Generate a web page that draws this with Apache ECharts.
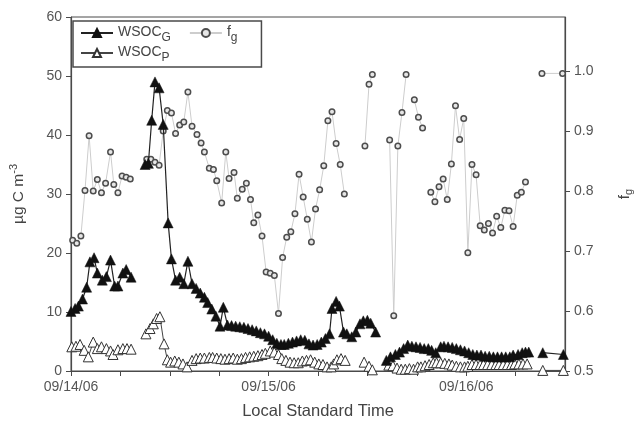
<!DOCTYPE html>
<html>
<head>
<meta charset="utf-8">
<script src="https://cdn.jsdelivr.net/npm/echarts@6/dist/echarts.min.js"></script>
<style>
  html, body { margin: 0; padding: 0; background: #fff; }
  #chart { width: 642px; height: 428px; }
</style>
</head>
<body>
<div id="chart"></div>
<script>
// hours since 09/14/06 00:00, null = no data (line breaks)
var wsocGTime = [0, 0.5, 0.9, 1.4, 1.9, 2.3, 2.8, 3.2, 3.8, 4.3, 4.8, 5.3, 5.7, 6.3, 6.7, 7.3, 8.1,
  9.0, 9.4, 9.8, 10.2, 10.7, 11.2, 11.8, 12.2, 12.7, 13.2, 13.7, 14.2, 14.7, 15.2, 15.7, 16.2, 16.6, 17.1, 17.6, 18.1,
  18.5, 19.0, 19.5, 20.0, 20.5, 21.0, 21.5, 22.0, 22.5, 23.0, 23.5, 24.0, 24.5, 25.0, 25.5, 25.9, 26.4, 26.9, 27.4, 27.9,
  28.4, 28.9, 29.4, 29.9, 30.4, 30.9, 31.4, 31.7, 32.2, 32.6, 33.1, 33.5, 34.1, 34.6, 35.1, 35.5, 36.0, 36.4, 37.0, 37.6,
  38.3, 38.8, 39.4, 39.9, 40.4, 40.9, 41.4, 41.9, 42.4, 42.9, 43.4, 43.8, 44.3, 44.9, 45.3, 45.8, 46.3, 46.8, 47.3, 47.8,
  48.3, 48.8, 49.3, 49.8, 50.3, 50.8, 51.3, 51.8, 52.3, 52.8, 53.3, 53.7, 54.3, 54.8, 55.2, 55.6, 56.4,
  57.3, 59.8];
var wsocGValue = [10.1, 10.6, 11.0, 12.2, 14.2, 18.5, 19.2, 16.6, 15.4, 16.0, 18.8, 14.4, 14.4, 16.6, 17.2, 15.9, null,
  35.0, 35.2, 42.5, 49.0, 48.0, 41.8, 25.1, 19.0, 15.4, 15.9, 14.8, 18.6, 14.8, 14.0, 13.2, 12.5, 11.6, 10.5, 9.3, 7.6,
  10.8, 7.8, 7.7, 7.6, 7.5, 7.4, 7.2, 7.0, 6.8, 6.5, 6.3, 5.9, 5.3, 4.7, 4.5, 4.5, 4.7, 4.9, 5.1, 5.3,
  5.2, 4.6, 4.4, 4.5, 4.9, 5.5, 6.3, 10.6, 11.8, 11.0, 6.6, 6.3, 5.8, 6.6, 8.0, 8.5, 8.6, 8.1, 6.6, null,
  1.8, 2.4, 2.8, 3.2, 3.8, 4.4, 4.2, 4.1, 4.0, 3.8, 3.8, 3.5, 3.1, 4.1, 4.2, 4.1, 4.0, 3.8, 3.6, 3.4,
  3.1, 2.8, 2.7, 2.7, 2.5, 2.5, 2.4, 2.4, 2.4, 2.4, 2.4, 2.7, 2.8, 3.1, 3.2, 3.2, null,
  3.1, 2.8];

var wsocPTime = [0.1, 0.6, 1.1, 1.6, 2.1, 2.7, 3.2, 3.7, 4.3, 4.8, 5.1, 5.7, 6.3, 6.8, 7.3, 8.2,
  9.1, 9.6, 10.0, 10.4, 10.8, 11.3, 11.7, 12.1, 12.6, 13.1, 13.6, 14.1, 14.7, 15.2, 15.7, 16.2, 16.8, 17.2, 17.7, 18.2,
  18.7, 19.2, 19.7, 20.2, 20.7, 21.2, 21.7, 22.2, 22.7, 23.2, 23.6, 24.2, 24.7, 25.2, 25.6, 26.1, 26.6, 27.1, 27.6, 28.1,
  28.6, 29.1, 29.6, 30.1, 30.6, 31.1, 31.6, 31.9, 32.3, 32.8, 33.3, 34.4,
  35.6, 36.2, 36.6, 37.6,
  38.6, 39.1, 39.6, 40.1, 40.6, 41.1, 41.6, 42.1, 42.5, 43.0, 43.5, 44.0, 44.4, 44.9, 45.4, 45.9, 46.3, 46.8, 47.3, 47.8,
  48.2, 48.7, 49.2, 49.7, 50.1, 50.6, 51.1, 51.6, 52.0, 52.5, 53.0, 53.5, 53.9, 54.4, 54.9, 55.4, 56.4,
  57.3, 59.8];
var wsocPValue = [4.1, 4.2, 4.5, 3.5, 2.4, 4.9, 3.8, 4.1, 3.8, 3.4, 2.8, 3.6, 3.8, 3.8, 3.7, null,
  6.3, 7.2, 8.0, 8.9, 9.2, 4.6, 1.9, 1.5, 1.7, 1.5, 1.2, 0.7, 1.8, 2.1, 2.2, 2.2, 2.3, 2.3, 2.2, 2.1,
  2.0, 2.1, 2.2, 2.0, 2.1, 2.3, 2.4, 2.5, 2.6, 2.8, 3.0, 3.4, 3.2, 2.8, 2.1, 1.8, 1.5, 1.4, 1.4, 1.7,
  1.8, 1.9, 1.5, 1.2, 1.1, 0.7, 0.7, 1.2, 1.9, 2.1, 1.8, null,
  1.5, 0.8, 0.2, null,
  1.0, 0.9, 0.5, 0.3, 0.3, 0.4, 0.3, 0.7, 0.7, 0.9, 1.1, 1.4, 1.4, 1.4, 1.3, 1.2, 1.0, 0.8, 0.7, 0.7,
  0.8, 1.1, 1.1, 1.1, 1.1, 1.1, 1.1, 1.1, 1.1, 1.1, 1.1, 1.1, 1.2, 1.2, 1.2, 1.2, null,
  0.1, 0.1];

var fgTime = [0.2, 0.7, 1.2, 1.7, 2.2, 2.7, 3.2, 3.7, 4.2, 4.8, 5.2, 5.7, 6.2, 6.7, 7.2, 8.2,
  9.2, 9.7, 10.2, 10.7, 11.2, 11.7, 12.2, 12.7, 13.2, 13.7, 14.2, 14.7, 15.3, 15.8, 16.2, 16.8, 17.3, 17.7, 18.3, 18.8,
  19.2, 19.8, 20.2, 20.8, 21.3, 21.8, 22.2, 22.7, 23.2, 23.7, 24.2, 24.7, 25.2, 25.7, 26.2, 26.7, 27.2, 27.7, 28.2, 28.7,
  29.2, 29.7, 30.2, 30.7, 31.2, 31.7, 32.2, 32.7, 33.2, 34.4,
  35.7, 36.2, 36.6, 37.6,
  38.7, 39.2, 39.7, 40.2, 40.7, 41.2,
  41.7, 42.2, 42.7, 43.2,
  43.7, 44.2, 44.7, 45.2, 45.7, 46.2, 46.7, 47.2, 47.7, 48.2, 48.7, 49.2, 49.7, 50.2, 50.7, 51.2, 51.7, 52.2, 52.7, 53.2,
  53.7, 54.2, 54.7, 55.2, 56.2,
  57.2, 59.7];
var fgValue = [0.718, 0.713, 0.725, 0.801, 0.892, 0.800, 0.819, 0.797, 0.813, 0.865, 0.811, 0.797, 0.825, 0.823, 0.820, null,
  0.853, 0.853, 0.848, 0.843, 0.900, 0.934, 0.930, 0.896, 0.910, 0.915, 0.965, 0.908, 0.894, 0.880, 0.865, 0.838, 0.836, 0.817, 0.780, 0.865,
  0.821, 0.831, 0.788, 0.803, 0.813, 0.786, 0.747, 0.760, 0.725, 0.665, 0.663, 0.659, 0.596, 0.689, 0.723, 0.732, 0.762, 0.828, 0.790, 0.753,
  0.715, 0.770, 0.802, 0.842, 0.917, 0.932, 0.879, 0.844, 0.795, null,
  0.875, 0.978, 0.994, null,
  0.885, 0.592, 0.875, 0.931, 0.994, null,
  0.952, 0.923, 0.905, null,
  0.798, 0.782, 0.807, 0.820, 0.786, 0.845, 0.942, 0.886, 0.921, 0.697, 0.844, 0.827, 0.742, 0.735, 0.746, 0.730, 0.758, 0.739, 0.768, 0.767,
  0.741, 0.793, 0.798, 0.815, null,
  0.996, 0.996];

var dayLabels = ['09/14/06', '09/15/06', '09/16/06'];

function pairs(t, v) {
  return t.map(function (x, i) { return [x, v[i] == null ? '-' : v[i]]; });
}

var chart = echarts.init(document.getElementById('chart'));
var font = 'Liberation Sans, Arial, sans-serif';
var axisCol = '#4a4a4a';
var txtCol = '#555';

var legendText = {
  fontFamily: font, color: '#444',
  rich: {
    a: { fontFamily: font, fontSize: 14, color: '#444', lineHeight: 16, verticalAlign: 'top' },
    b: { fontFamily: font, fontSize: 12, color: '#444', lineHeight: 12, padding: [7, 0, 0, 0], verticalAlign: 'top' }
  }
};
function legendFmt(name) {
  if (name === 'WSOCG') return '{a|WSOC}{b|G}';
  if (name === 'WSOCP') return '{a|WSOC}{b|P}';
  return '{a|f}{b|g}';
}

var option = {
  animation: false,
  grid: { left: 70, right: 67, top: 17, bottom: 57, show: true, borderColor: axisCol, borderWidth: 1 },
  legend: [{
    data: ['WSOCG', 'fg'],
    left: 73, top: 21,
    orient: 'horizontal',
    itemWidth: 32, itemHeight: 10, itemGap: 18,
    padding: [4, 24, 23, 7],
    borderColor: axisCol, borderWidth: 1.5,
    formatter: legendFmt,
    textStyle: legendText
  }, {
    data: ['WSOCP'],
    left: 80, top: 45,
    itemWidth: 32, itemHeight: 10,
    padding: 0,
    formatter: legendFmt,
    textStyle: legendText
  }],
  xAxis: {
    type: 'value', min: 0, max: 60, interval: 6,
    name: 'Local Standard Time', nameLocation: 'middle', nameGap: 32,
    nameTextStyle: { fontFamily: font, fontSize: 16.5, color: '#444' },
    axisLine: { lineStyle: { color: axisCol, width: 1.2 } },
    axisTick: { show: true, length: 5, lineStyle: { color: axisCol } },
    axisLabel: {
      fontFamily: font, fontSize: 14, color: txtCol, margin: 9,
      formatter: function (v) { return v % 24 === 0 ? dayLabels[v / 24] : ''; }
    },
    splitLine: { show: false }
  },
  yAxis: [{
    type: 'value', min: 0, max: 60, interval: 10,
    name: '{a|µg C m}{s|-3}', nameLocation: 'middle', nameGap: 44, nameRotate: 90,
    nameTextStyle: {
      rich: {
        a: { fontFamily: font, fontSize: 15.5, color: '#444', lineHeight: 18, verticalAlign: 'bottom' },
        s: { fontFamily: font, fontSize: 11, color: '#444', lineHeight: 11, padding: [0, 0, 8, 0], verticalAlign: 'bottom' }
      }
    },
    axisLine: { show: true, lineStyle: { color: axisCol, width: 1.2 } },
    axisTick: { show: true, length: 5, lineStyle: { color: axisCol } },
    axisLabel: { fontFamily: font, fontSize: 14, color: txtCol, margin: 9 },
    splitLine: { show: false }
  }, {
    type: 'value', min: 0.5, max: 1.09, interval: 0.1, position: 'right',
    name: '{a|f}{b|g}', nameLocation: 'middle', nameGap: 52, nameRotate: 90,
    nameTextStyle: {
      rich: {
        a: { fontFamily: font, fontSize: 15, color: '#444', lineHeight: 16, verticalAlign: 'top' },
        b: { fontFamily: font, fontSize: 11, color: '#444', lineHeight: 11, padding: [6, 0, 0, 0], verticalAlign: 'top' }
      }
    },
    axisLine: { show: true, lineStyle: { color: axisCol, width: 1.2 } },
    axisTick: { show: true, length: 5, lineStyle: { color: axisCol } },
    axisLabel: {
      fontFamily: font, fontSize: 14, color: txtCol, margin: 9, showMaxLabel: false,
      formatter: function (v) { return v.toFixed(1); }
    },
    splitLine: { show: false }
  }],
  series: [{
    name: 'fg', type: 'line', yAxisIndex: 1, z: 1,
    data: pairs(fgTime, fgValue),
    symbol: 'circle', symbolSize: 5.5,
    lineStyle: { color: '#cdcdcd', width: 1 },
    itemStyle: { color: '#e6e6e6', borderColor: '#4d4d4d', borderWidth: 1.5 }
  }, {
    name: 'WSOCG', type: 'line', z: 3,
    data: pairs(wsocGTime, wsocGValue),
    symbol: 'triangle', symbolSize: 10,
    lineStyle: { color: '#222', width: 1.2 },
    itemStyle: { color: '#111', borderColor: '#111', borderWidth: 0.5 }
  }, {
    name: 'WSOCP', type: 'line', z: 2,
    data: pairs(wsocPTime, wsocPValue),
    symbol: 'triangle', symbolSize: 10,
    lineStyle: { color: '#444', width: 1 },
    itemStyle: { color: '#fff', borderColor: '#333', borderWidth: 1 }
  }]
};
chart.setOption(option);
</script>
</body>
</html>
